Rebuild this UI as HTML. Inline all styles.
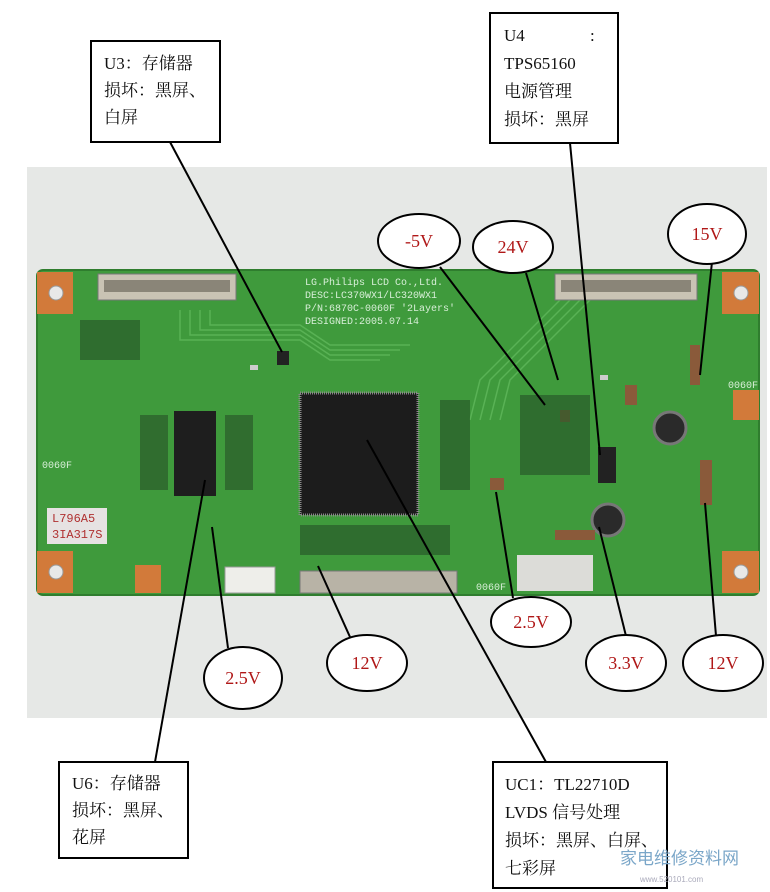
<!DOCTYPE html>
<html><head><meta charset="utf-8"><style>
html,body{margin:0;padding:0;background:#fff;width:770px;height:892px;overflow:hidden}
svg{display:block}
.bx{font-family:"Liberation Serif","Noto Serif CJK SC",serif;font-size:17px;fill:#111}
.v{font-family:"Liberation Serif",serif;font-size:18px;fill:#b01818;text-anchor:middle}
.pl{font-family:"Liberation Mono",monospace;font-size:10px;fill:#d8efd8}
</style></head><body>
<svg width="770" height="892" viewBox="0 0 770 892" xmlns="http://www.w3.org/2000/svg">
<rect x="27" y="167" width="740" height="551" fill="#e6e8e6"/>
<!-- PCB -->
<rect x="37" y="270" width="722" height="325" rx="6" fill="#3f9a3c"/>
<rect x="37" y="270" width="722" height="325" rx="6" fill="none" stroke="#2f7d2e" stroke-width="2"/>
<!-- corner pads -->
<g fill="#d27a3a">
<rect x="37" y="272" width="36" height="42"/><rect x="722" y="272" width="37" height="42"/>
<rect x="37" y="551" width="36" height="42"/><rect x="722" y="551" width="37" height="42"/>
<rect x="135" y="565" width="26" height="28"/><rect x="733" y="390" width="26" height="30"/>
</g>
<g fill="#e8e8e8" stroke="#999"><circle cx="56" cy="293" r="7"/><circle cx="741" cy="293" r="7"/><circle cx="56" cy="572" r="7"/><circle cx="741" cy="572" r="7"/></g>
<!-- traces -->
<g stroke="#59b255" stroke-width="1.5" fill="none">
<path d="M180 310 L180 340 L300 340 L330 360 L380 360"/><path d="M190 310 L190 335 L300 335 L330 355 L390 355"/>
<path d="M200 310 L200 330 L300 330 L330 350 L400 350"/><path d="M210 310 L210 325 L300 325 L330 345 L410 345"/>
<path d="M560 300 L480 380 L470 420"/><path d="M570 300 L490 380 L480 420"/><path d="M580 300 L500 380 L490 420"/><path d="M590 300 L510 380 L500 420"/>
</g>
<!-- connectors -->
<rect x="98" y="274" width="138" height="26" fill="#c9c3b4" stroke="#777"/>
<rect x="104" y="280" width="126" height="12" fill="#8a8578"/>
<rect x="555" y="274" width="142" height="26" fill="#c9c3b4" stroke="#777"/>
<rect x="561" y="280" width="130" height="12" fill="#8a8578"/>
<rect x="300" y="571" width="157" height="22" fill="#b8b3a6" stroke="#777"/>
<rect x="225" y="567" width="50" height="26" fill="#eeeeea" stroke="#999"/>
<rect x="517" y="555" width="76" height="36" fill="#dcdcd8"/>
<rect x="47" y="508" width="60" height="36" fill="#e6e2e2"/>
<text x="52" y="522" font-family="Liberation Mono" font-size="12" fill="#b03030">L796A5</text>
<text x="52" y="538" font-family="Liberation Mono" font-size="12" fill="#b03030">3IA317S</text>
<text x="305" y="285" class="pl">LG.Philips LCD Co.,Ltd.</text>
<text x="305" y="298" class="pl">DESC:LC370WX1/LC320WX1</text>
<text x="305" y="311" class="pl">P/N:6870C-0060F '2Layers'</text>
<text x="305" y="324" class="pl">DESIGNED:2005.07.14</text>
<text x="42" y="468" class="pl">0060F</text><text x="728" y="388" class="pl">0060F</text><text x="476" y="590" class="pl">0060F</text>
<!-- chips -->
<rect x="300" y="393" width="118" height="122" fill="#1c1c1c" stroke="#888" stroke-width="3" stroke-dasharray="1 1"/>
<rect x="174" y="411" width="42" height="85" fill="#1e1e1e"/>
<rect x="277" y="351" width="12" height="14" fill="#222"/>
<rect x="598" y="447" width="18" height="36" fill="#222"/>
<circle cx="670" cy="428" r="16" fill="#2a2a2a" stroke="#777" stroke-width="3"/>
<circle cx="608" cy="520" r="16" fill="#2a2a2a" stroke="#777" stroke-width="3"/>
<g fill="#ccc"><rect x="250" y="365" width="8" height="5"/><rect x="600" y="375" width="8" height="5"/></g>
<g fill="#8a5a3a">
<rect x="690" y="345" width="10" height="40"/><rect x="700" y="460" width="12" height="45"/>
<rect x="625" y="385" width="12" height="20"/><rect x="560" y="410" width="10" height="12"/>
<rect x="555" y="530" width="40" height="10"/><rect x="490" y="478" width="14" height="12"/>
</g>
<g fill="#2a5a2a" opacity="0.7">
<rect x="140" y="415" width="28" height="75"/><rect x="225" y="415" width="28" height="75"/>
<rect x="440" y="400" width="30" height="90"/><rect x="520" y="395" width="70" height="80"/>
<rect x="300" y="525" width="150" height="30"/><rect x="80" y="320" width="60" height="40"/>
</g>
<!-- leader lines -->
<g stroke="#000" stroke-width="2" fill="none">
<line x1="170" y1="142" x2="282" y2="352"/>
<line x1="570" y1="143" x2="600" y2="455"/>
<line x1="155" y1="762" x2="205" y2="480"/>
<line x1="546" y1="762" x2="367" y2="440"/>
<line x1="440" y1="267" x2="545" y2="405"/>
<line x1="526" y1="273" x2="558" y2="380"/>
<line x1="712" y1="262" x2="700" y2="375"/>
<line x1="228" y1="648" x2="212" y2="527"/>
<line x1="350" y1="637" x2="318" y2="566"/>
<line x1="513" y1="598" x2="496" y2="492"/>
<line x1="626" y1="636" x2="599" y2="527"/>
<line x1="716" y1="636" x2="705" y2="503"/>
</g>
<!-- ellipses -->
<g fill="#fff" stroke="#000" stroke-width="2">
<ellipse cx="419" cy="241" rx="41" ry="27"/>
<ellipse cx="513" cy="247" rx="40" ry="26"/>
<ellipse cx="707" cy="234" rx="39" ry="30"/>
<ellipse cx="531" cy="622" rx="40" ry="25"/>
<ellipse cx="626" cy="663" rx="40" ry="28"/>
<ellipse cx="723" cy="663" rx="40" ry="28"/>
<ellipse cx="367" cy="663" rx="40" ry="28"/>
<ellipse cx="243" cy="678" rx="39" ry="31"/>
</g>
<text class="v" x="419" y="247">-5V</text>
<text class="v" x="513" y="253">24V</text>
<text class="v" x="707" y="240">15V</text>
<text class="v" x="531" y="628">2.5V</text>
<text class="v" x="626" y="669">3.3V</text>
<text class="v" x="723" y="669">12V</text>
<text class="v" x="367" y="669">12V</text>
<text class="v" x="243" y="684">2.5V</text>
<!-- boxes -->
<g fill="#fff" stroke="#000" stroke-width="2">
<rect x="91" y="41" width="129" height="101"/>
<rect x="490" y="13" width="128" height="130"/>
<rect x="59" y="762" width="129" height="96"/>
<rect x="493" y="762" width="174" height="126"/>
</g>
<g class="bx">
<text x="104" y="69">U3：存储器</text><text x="104" y="96">损坏：黑屏、</text><text x="104" y="123">白屏</text>
<text x="504" y="41">U4</text><text x="590" y="41">:</text><text x="504" y="69">TPS65160</text><text x="504" y="97">电源管理</text><text x="504" y="125">损坏：黑屏</text>
<text x="72" y="789">U6：存储器</text><text x="72" y="816">损坏：黑屏、</text><text x="72" y="843">花屏</text>
<text x="505" y="790">UC1：TL22710D</text><text x="505" y="818">LVDS 信号处理</text><text x="505" y="846">损坏：黑屏、白屏、</text><text x="505" y="874">七彩屏</text>
</g>
<text x="620" y="864" font-family="Liberation Sans,Noto Sans CJK SC,sans-serif" font-size="17" fill="#7aa6c8">家电维修资料网</text>
<text x="640" y="882" font-family="Liberation Sans,sans-serif" font-size="8" fill="#aab">www.520101.com</text>
</svg>
</body></html>
